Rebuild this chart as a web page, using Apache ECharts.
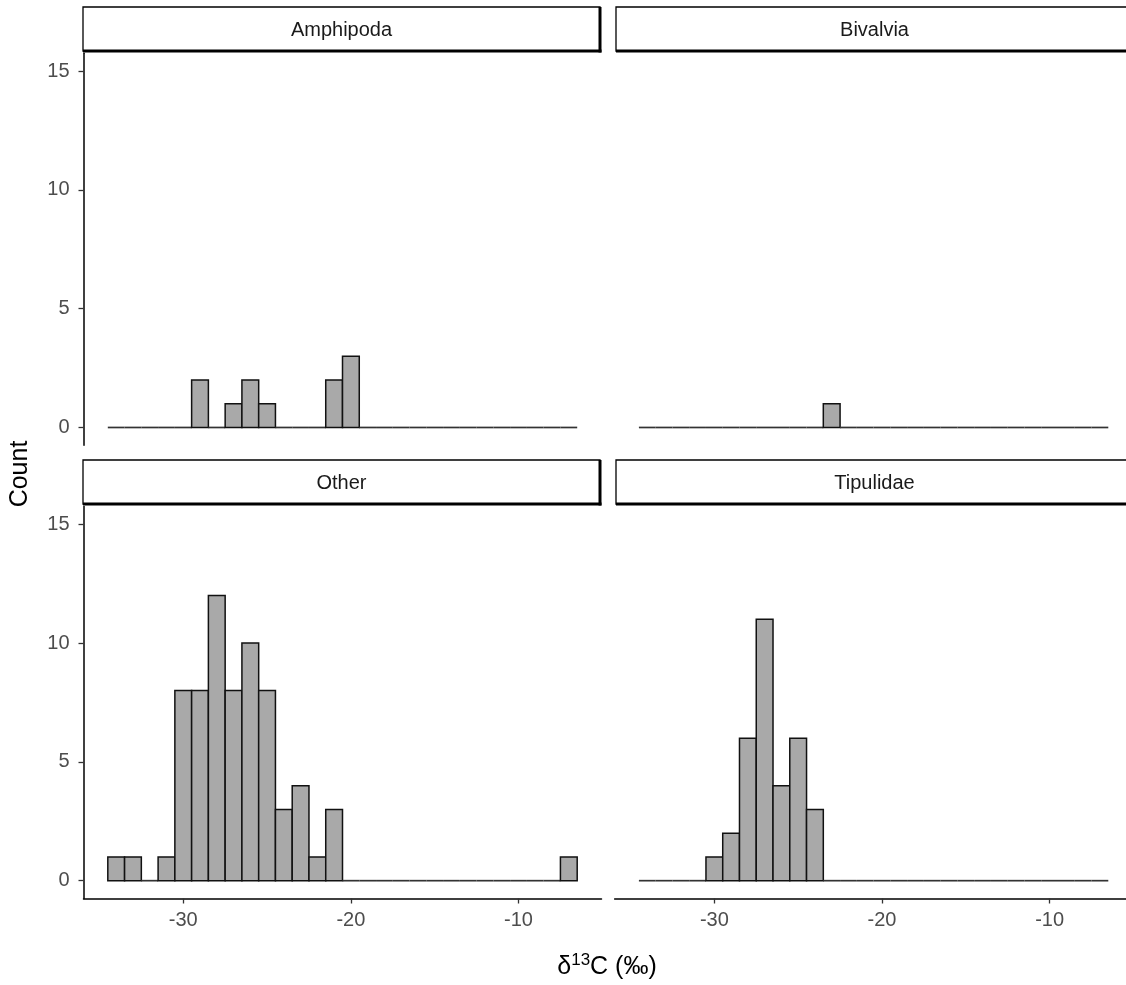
<!DOCTYPE html>
<html>
<head>
<meta charset="utf-8">
<script src="https://cdn.jsdelivr.net/npm/echarts@6.0.0/dist/echarts.min.js"></script>
<style>
html, body { margin: 0; padding: 0; background: #fff; }
#chart { width: 1126px; height: 985px; }
</style>
</head>
<body>
<div id="chart"></div>
<script>
// histogram bins, binwidth 1, centres
let binCentres = [-34, -33, -32, -31, -30, -29, -28, -27, -26, -25, -24, -23, -22, -21,
                  -20, -19, -18, -17, -16, -15, -14, -13, -12, -11, -10, -9, -8, -7];
let amphipoda = [0, 0, 0, 0, 0, 2, 0, 1, 2, 1, 0, 0, 0, 2, 3, 0, 0, 0, 0, 0, 0, 0, 0, 0, 0, 0, 0, 0];
let bivalvia  = [0, 0, 0, 0, 0, 0, 0, 0, 0, 0, 0, 1, 0, 0, 0, 0, 0, 0, 0, 0, 0, 0, 0, 0, 0, 0, 0, 0];
let other     = [1, 1, 0, 1, 8, 8, 12, 8, 10, 8, 3, 4, 1, 3, 0, 0, 0, 0, 0, 0, 0, 0, 0, 0, 0, 0, 0, 1];
let tipulidae = [0, 0, 0, 0, 1, 2, 6, 11, 4, 6, 3, 0, 0, 0, 0, 0, 0, 0, 0, 0, 0, 0, 0, 0, 0, 0, 0, 0];
let facetNames = ['Amphipoda', 'Bivalvia', 'Other', 'Tipulidae'];
let yTicks = [0, 5, 10, 15];
let xTicks = [-30, -20, -10];
let binWidth = 1;

let counts = [amphipoda, bivalvia, other, tipulidae];

const FONT = '"Liberation Sans", Arial, sans-serif';
const PW = 518, PH = 392;
// panel positions: [left, top], strip sits above each panel
const panels = [[83.5, 53.3], [614.6, 53.3], [83.5, 506.5], [614.6, 506.5]];
const strips = [[83, 7], [616, 7], [83, 460], [616, 460]];
const STRIP_W = 517, STRIP_H = 44;

function renderBin(params, api) {
    let x = api.value(0), n = api.value(1);
    let p0 = api.coord([x - binWidth / 2, n]);
    let p1 = api.coord([x + binWidth / 2, 0]);
    if (n === 0) {
        return {
            type: 'line',
            shape: { x1: p0[0], y1: p1[1], x2: p1[0], y2: p1[1] },
            style: { stroke: '#333', lineWidth: 1.7 }
        };
    }
    return {
        type: 'rect',
        shape: { x: p0[0], y: p0[1], width: p1[0] - p0[0], height: p1[1] - p0[1] },
        style: { fill: '#a9a9a9', stroke: '#111', lineWidth: 1.5 }
    };
}

let isBottom = i => i >= 2;
let isLeft = i => i % 2 === 0;

let option = {
    animation: false,
    backgroundColor: '#fff',
    grid: panels.map(p => ({
        left: p[0], top: p[1], width: PW, height: PH,
        outerBoundsMode: 'none'
    })),
    xAxis: panels.map((p, i) => ({
        type: 'value',
        gridIndex: i,
        show: isBottom(i),
        min: -35.95,
        max: -5.05,
        splitLine: { show: false },
        axisLine: { show: true, onZero: false, lineStyle: { color: '#000', width: 1.5 } },
        axisTick: { show: true, length: 5, customValues: xTicks, lineStyle: { color: '#333', width: 1.3 } },
        axisLabel: {
            customValues: xTicks, margin: 12,
            color: '#4d4d4d', fontSize: 20, fontFamily: FONT
        }
    })),
    yAxis: panels.map((p, i) => ({
        type: 'value',
        gridIndex: i,
        show: isLeft(i),
        min: -0.75,
        max: 15.75,
        splitLine: { show: false },
        axisLine: { show: true, onZero: false, lineStyle: { color: '#000', width: 1.5 } },
        axisTick: { show: true, length: 5, customValues: yTicks, lineStyle: { color: '#333', width: 1.3 } },
        axisLabel: {
            customValues: yTicks, margin: 14,
            color: '#4d4d4d', fontSize: 20, fontFamily: FONT
        }
    })),
    series: counts.map((c, i) => ({
        type: 'custom',
        name: facetNames[i],
        xAxisIndex: i,
        yAxisIndex: i,
        renderItem: renderBin,
        encode: { x: 0, y: 1 },
        data: binCentres.map((b, k) => [b, c[k]])
    })),
    graphic: []
};

// facet strips
strips.forEach((s, i) => {
    let [x, y] = s;
    option.graphic.push(
        { type: 'rect', shape: { x: x, y: y, width: STRIP_W, height: STRIP_H },
          style: { fill: '#fff', stroke: '#000', lineWidth: 1.3 }, z: 10 },
        { type: 'line', shape: { x1: x, y1: y + STRIP_H, x2: x + STRIP_W + 1.5, y2: y + STRIP_H },
          style: { stroke: '#000', lineWidth: 3 }, z: 11 },
        { type: 'line', shape: { x1: x + STRIP_W, y1: y, x2: x + STRIP_W, y2: y + STRIP_H + 1.5 },
          style: { stroke: '#000', lineWidth: 3 }, z: 11 },
        { type: 'text', x: x + STRIP_W / 2, y: y + STRIP_H / 2 + 1, z: 12,
          style: { text: facetNames[i], fill: '#1a1a1a', fontSize: 20, fontFamily: FONT,
                   align: 'center', verticalAlign: 'middle' } }
    );
});

// axis titles
option.graphic.push(
    { type: 'text', x: 20, y: 474, rotation: Math.PI / 2,
      style: { text: 'Count', fill: '#000', fontSize: 25, fontFamily: FONT,
               align: 'center', verticalAlign: 'middle' } },
    { type: 'text', x: 607, y: 966,
      style: {
          text: '{a|δ}{s|13}{a|C (‰)}',
          align: 'center', verticalAlign: 'middle',
          rich: {
              a: { fontSize: 25, fontFamily: FONT, fill: '#000', verticalAlign: 'bottom' },
              s: { fontSize: 17, fontFamily: FONT, fill: '#000', verticalAlign: 'bottom', padding: [0, 0, 11, 0] }
          }
      } }
);

let myChart = echarts.init(document.getElementById('chart'));
myChart.setOption(option);
</script>
</body>
</html>
